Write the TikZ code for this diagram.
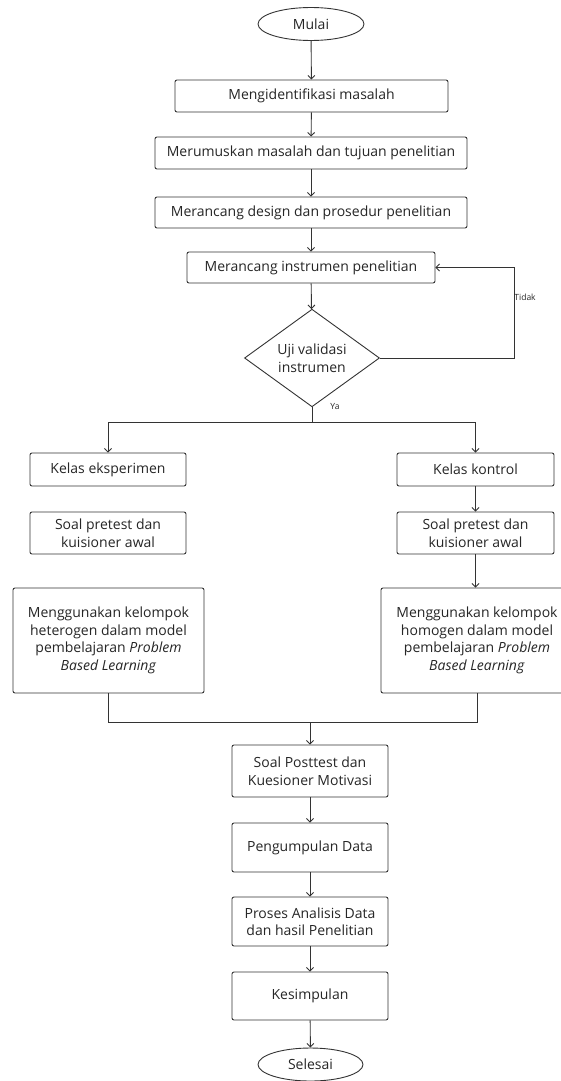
\documentclass[tikz,border=0pt]{standalone}
\usepackage{fontspec}
\setmainfont{Open Sans}
\usetikzlibrary{shapes.geometric,arrows.meta,calc}
\begin{document}
\begin{tikzpicture}[x=1pt,y=-1pt,
  line width=0.9pt,
  lc/.style={draw=black!80},
  arr/.style={lc,-{Straight Barb[length=3.5pt,width=7pt]}},
  box/.style={lc,rectangle,rounded corners=2pt,align=center,inner sep=1pt,
    font=\fontsize{14}{17.5}\selectfont,text=black!85},
  oval/.style={lc,ellipse,inner sep=0pt,font=\fontsize{14}{17.5}\selectfont,text=black!85},
  small/.style={font=\fontsize{8.5}{10}\selectfont,text=black!85,inner sep=0pt}
]
\useasboundingbox (0,0) rectangle (560,1081);
\fill[white] (0,0) rectangle (560,1081);

\node[oval,minimum width=106,minimum height=33] (mulai) at (311,24) {Mulai};
\node[box,minimum width=273,minimum height=32] (b1) at (311.5,96) {Mengidentifikasi masalah};
\node[box,minimum width=312,minimum height=32] (b2) at (311,153) {Merumuskan masalah dan tujuan penelitian};
\node[box,minimum width=312,minimum height=31] (b3) at (311,212.5) {Merancang design dan prosedur penelitian};
\node[box,minimum width=248,minimum height=31] (b4) at (311,267.5) {Merancang instrumen penelitian};
\node[lc,diamond,inner sep=0pt,minimum width=135,minimum height=92,align=center,
  font=\fontsize{14}{17.5}\selectfont,text=black!85] (dia) at (312,358) {Uji validasi\\instrumen};

\node[box,minimum width=156,minimum height=33] (ke) at (108,469.5) {Kelas eksperimen};
\node[box,minimum width=156,minimum height=42] (sl) at (108,533) {Soal pretest dan\\kuisioner awal};
\node[box,minimum width=191,minimum height=105] (ml) at (108.5,640.5) {Menggunakan kelompok\\heterogen dalam model\\pembelajaran \textit{Problem}\\\textit{Based Learning}};

\node[box,minimum width=157,minimum height=33] (kk) at (475.5,469.5) {Kelas kontrol};
\node[box,minimum width=157,minimum height=42] (sr) at (475.5,533) {Soal pretest dan\\kuisioner awal};
\node[box,minimum width=192,minimum height=105] (mr) at (477,640.5) {Menggunakan kelompok\\homogen dalam model\\pembelajaran \textit{Problem}\\\textit{Based Learning}};

\node[box,minimum width=156,minimum height=52] (pt) at (310,771) {Soal Posttest dan\\Kuesioner Motivasi};
\node[box,minimum width=156,minimum height=49] (pd) at (310,847.5) {Pengumpulan Data};
\node[box,minimum width=156,minimum height=49] (pa) at (310,921.5) {Proses Analisis Data\\dan hasil Penelitian};
\node[box,minimum width=156,minimum height=48] (ks) at (310,996) {Kesimpulan};
\node[oval,minimum width=105,minimum height=33] (sel) at (310.5,1064.5) {Selesai};

\draw[arr] (mulai) -- (b1);
\draw[arr] (b1) -- (b2);
\draw[arr] (b2) -- (b3);
\draw[arr] (b3) -- (b4);
\draw[arr] (b4) -- (dia);

\coordinate (tr) at (514,358);
\coordinate (tt) at (514,267.5);
\draw[arr] (dia.east) -- (tr) -- (tt) -- (b4.east);
\node[small,anchor=west] (tidak) at (514,297) {Tidak};

\coordinate (ya) at (312,422);
\coordinate (yl) at (108,422);
\coordinate (yr) at (475.5,422);
\draw[lc] (dia.south) -- (ya);
\node[small,anchor=west] (yalbl) at (330,407) {Ya};
\draw[arr] (ya) -- (yl) -- (ke.north);
\draw[arr] (ya) -- (yr) -- (kk.north);

\draw[arr] (kk) -- (sr);
\draw[arr] (sr) -- (mr.north -| sr.south);

\coordinate (bl) at (108,722);
\coordinate (br) at (477,722);
\coordinate (bm) at (310,722);
\draw[lc] (ml.south -| bl) -- (bl) -- (br) -- (mr.south);
\draw[arr] (bm) -- (pt);
\draw[arr] (pt) -- (pd);
\draw[arr] (pd) -- (pa);
\draw[arr] (pa) -- (ks);
\draw[arr] (ks) -- (sel);
\end{tikzpicture}
\end{document}
